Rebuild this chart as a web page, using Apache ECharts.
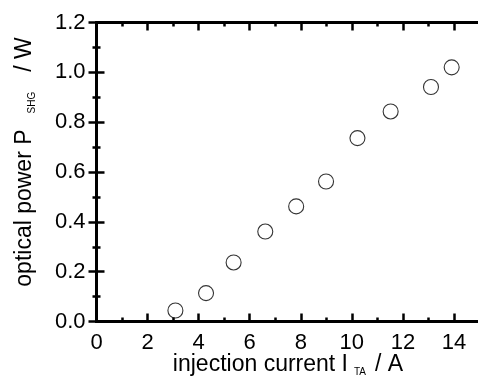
<!DOCTYPE html>
<html><head><meta charset="utf-8">
<script src="https://cdn.jsdelivr.net/npm/echarts@6/dist/echarts.min.js"></script>
<style>html,body{margin:0;padding:0;background:#fff}#c{width:478px;height:379px}</style>
</head><body><div id="c"></div>
<script>
// data
const current = [3.09, 4.29, 5.37, 6.61, 7.82, 8.99, 10.22, 11.52, 13.10, 13.91];
const power   = [0.044, 0.114, 0.237, 0.361, 0.462, 0.562, 0.736, 0.843, 0.941, 1.020];
const xLabel = 'injection current I';
const xSub = 'TA';
const xUnit = '/ A';
const yLabel = 'optical power P';
const ySub = 'SHG';
const yUnit = '/ W';

const FONT = 'Liberation Sans, Arial, Helvetica, sans-serif';
const BLACK = '#000';
const chart = echarts.init(document.getElementById('c'), null, {renderer: 'canvas'});

const common = {
  splitLine: {show: false},
  axisLine: {show: true, lineStyle: {color: BLACK, width: 3}},
};
function xAx(pos, interval, tickLen, labels) {
  return Object.assign({}, common, {
    type: 'value', position: pos, min: 0, max: 15, interval: interval,
    axisTick: {show: true, inside: true, length: tickLen, lineStyle: {color: BLACK, width: 2.5}},
    axisLabel: {show: labels, margin: 10, fontSize: 22, fontFamily: FONT, color: BLACK,
      formatter: v => (v > 14.5 ? '' : String(v))},
  });
}
function yAx(pos, labels) {
  return Object.assign({}, common, {
    type: 'value', position: pos, min: 0, max: 1.2, interval: 0.2,
    axisTick: {show: true, inside: true, length: 8, lineStyle: {color: BLACK, width: 2.5}},
    minorTick: {show: true, splitNumber: 2, length: 4, lineStyle: {color: BLACK, width: 2.5}},
    axisLabel: {show: labels, margin: 11, fontSize: 22, fontFamily: FONT, color: BLACK,
      formatter: v => v.toFixed(1)},
  });
}

const xs = [xAx('bottom', 2, 8, true), xAx('bottom', 1, 4, false), xAx('top', 2, 8, false), xAx('top', 1, 4, false)];
xs[0].name = xLabel + '{s|' + xSub + '}' + xUnit;
xs[0].nameLocation = 'middle';
xs[0].nameGap = 30;
xs[0].nameMoveOverlap = false;
xs[0].nameTextStyle = {fontSize: 23, fontFamily: FONT, color: BLACK, lineHeight: 26,
  rich: {s: {fontSize: 10, fontFamily: FONT, color: BLACK, verticalAlign: 'bottom', lineHeight: 10, padding: [25, 9, 0, 6]}}};

const ys = [yAx('left', true), yAx('right', false)];
ys[0].name = yLabel + '{s|' + ySub + '}' + yUnit;
ys[0].nameLocation = 'middle';
ys[0].nameGap = 59;
ys[0].nameMoveOverlap = false;
ys[0].nameTextStyle = {fontSize: 23, fontFamily: FONT, color: BLACK, lineHeight: 26, padding: [0, 0, 0, 20],
  rich: {s: {fontSize: 10, fontFamily: FONT, color: BLACK, verticalAlign: 'bottom', lineHeight: 10, padding: [13, 20, 0, 16]}}};

chart.setOption({
  animation: false,
  backgroundColor: '#fff',
  grid: {left: 96.5, top: 22.5, width: 383, height: 299, containLabel: false, outerBoundsMode: 'none'},
  xAxis: xs,
  yAxis: ys,
  series: [{
    type: 'scatter', xAxisIndex: 0, yAxisIndex: 0,
    data: current.map((c, i) => [c, power[i]]),
    symbol: 'circle', symbolSize: 15,
    itemStyle: {color: 'rgba(255,255,255,0)', borderColor: BLACK, borderWidth: 1.1},
    clip: false
  }]
});
</script></body></html>
